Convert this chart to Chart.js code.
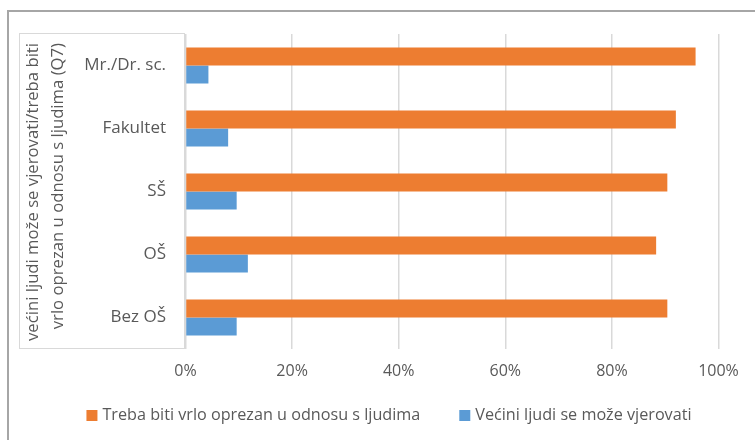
<!DOCTYPE html>
<html>
<head>
<meta charset="utf-8">
<script src="https://cdn.jsdelivr.net/npm/chart.js@4.4.1/dist/chart.umd.min.js"></script>
<style>
html,body{margin:0;padding:0;background:#fff;}
#wrap{width:755px;height:440px;position:relative;}
</style>
</head>
<body>
<div id="wrap"><canvas id="c" width="755" height="440"></canvas></div>
<script>
const categories = ["Mr./Dr. sc.", "Fakultet", "SŠ", "OŠ", "Bez OŠ"];
const seriesNames = ["Treba biti vrlo oprezan u odnosu s ljudima", "Većini ljudi se može vjerovati"];
const orangeValues = [95.7, 92.0, 90.4, 88.3, 90.4];
const blueValues = [4.3, 8.0, 9.6, 11.7, 9.6];
const xTicks = [0, 20, 40, 60, 80, 100];
const axisTitleLines = ["većini ljudi može se vjerovati/treba biti", "vrlo oprezan u odnosu s ljudima (Q7)"];

const FONT = "'Open Sans'";
const TXT = "#595959";

const decor = {
  id: "decor",
  beforeDraw(chart) {
    const ctx = chart.ctx;
    ctx.save();
    ctx.fillStyle = "#fff";
    ctx.fillRect(0, 0, chart.width, chart.height);
    ctx.strokeStyle = "#a6a6a6";
    ctx.lineWidth = 2;
    ctx.beginPath();
    ctx.moveTo(8, 440); ctx.lineTo(8, 11); ctx.lineTo(755, 11);
    ctx.stroke();
    ctx.strokeStyle = "#d9d9d9";
    ctx.lineWidth = 1;
    ctx.strokeRect(19.5, 33.5, 165, 315);
    ctx.restore();
  },
  afterDraw(chart) {
    const ctx = chart.ctx;
    ctx.save();
    ctx.fillStyle = TXT;
    ctx.font = "16.7px " + FONT;
    ctx.textAlign = "right";
    ctx.textBaseline = "middle";
    const xs = [33, 58];
    axisTitleLines.forEach((t, i) => {
      ctx.save();
      ctx.translate(xs[i], 43);
      ctx.rotate(-Math.PI / 2);
      ctx.fillText(t, 0, 0);
      ctx.restore();
    });
    ctx.font = "16.2px " + FONT;
    ctx.textAlign = "left";
    const ds = chart.data.datasets;
    const box = 11, gap = 5, itemGap = 39;
    let total = 0;
    ds.forEach((d, i) => { total += box + gap + ctx.measureText(d.label).width + (i < ds.length - 1 ? itemGap : 0); });
    let x = 389 - total / 2;
    const yc = 415.5;
    ds.forEach((d) => {
      ctx.fillStyle = d.backgroundColor;
      ctx.fillRect(x, yc - box / 2, box, box);
      x += box + gap;
      ctx.fillStyle = TXT;
      ctx.fillText(d.label, x, yc);
      x += ctx.measureText(d.label).width + itemGap;
    });
    ctx.restore();
  }
};

new Chart(document.getElementById("c"), {
  type: "bar",
  data: {
    labels: categories,
    datasets: [
      { label: seriesNames[0], data: orangeValues, backgroundColor: "#ED7D31" },
      { label: seriesNames[1], data: blueValues, backgroundColor: "#5B9BD5" }
    ]
  },
  options: {
    indexAxis: "y",
    responsive: false,
    animation: false,
    devicePixelRatio: 1,
    categoryPercentage: 0.571,
    barPercentage: 1,
    layout: { padding: { top: 34, right: 36.5, left: 0, bottom: 0 } },
    plugins: { legend: { display: false }, tooltip: { enabled: false } },
    scales: {
      x: {
        min: 0, max: 100,
        afterFit: s => { s.height = 91; },
        afterBuildTicks: s => { s.ticks = xTicks.map(v => ({ value: v })); },
        ticks: { callback: v => v + "%", color: TXT, font: { family: FONT, size: 16 }, padding: 13, maxRotation: 0 },
        grid: { color: "#d9d9d9", lineWidth: 1.5, drawTicks: false },
        border: { display: false }
      },
      y: {
        afterFit: s => { s.width = 185.5; },
        ticks: { color: TXT, font: { family: FONT, size: 17 }, padding: 19.5 },
        grid: { display: false, drawTicks: false },
        border: { display: false }
      }
    }
  },
  plugins: [decor]
});
</script>
</body>
</html>
